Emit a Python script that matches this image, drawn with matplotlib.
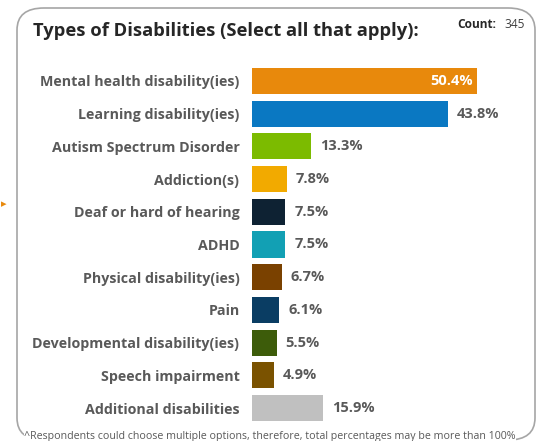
import matplotlib.pyplot as plt
from matplotlib.patches import FancyBboxPatch

# Survey results: types of disabilities (multiple selection)
categories = [
    'Mental health disability(ies)',
    'Learning disability(ies)',
    'Autism Spectrum Disorder',
    'Addiction(s)',
    'Deaf or hard of hearing',
    'ADHD',
    'Physical disability(ies)',
    'Pain',
    'Developmental disability(ies)',
    'Speech impairment',
    'Additional disabilities',
]
percentages = [50.4, 43.8, 13.3, 7.8, 7.5, 7.5, 6.7, 6.1, 5.5, 4.9, 15.9]
bar_colors = ['#E8890C', '#0A78C2', '#7CBB00', '#F2AA00', '#0E2233', '#12A0B4',
              '#7A4100', '#0A3D63', '#3D5C0A', '#7A5200', '#C0C0C0']
count = 345

plt.rcParams['font.family'] = ['Open Sans', 'DejaVu Sans']
text_gray = '#595959'

W, H = 539, 441
fig = plt.figure(figsize=(W / 100, H / 100), dpi=100)
fig.patch.set_facecolor('white')

# rounded frame around the whole panel
frame = FancyBboxPatch((17 / W, 1 - 440 / H), 518 / W, 432 / H,
                       boxstyle='round,pad=0,rounding_size=0.05',
                       transform=fig.transFigure, facecolor='none',
                       edgecolor='#A6A6A6', linewidth=1.2, clip_on=False)
fig.patches.append(frame)

# small orange marker sitting outside the frame
fig.text(1 / W, 1 - 205 / H, '\u25B8', color='#E8890C', fontsize=8,
         ha='left', va='center')

fig.text(33 / W, 1 - 31 / H, 'Types of Disabilities (Select all that apply):',
         fontsize=13.2, fontweight='bold', color='#262626', ha='left', va='center')
fig.text(457 / W, 1 - 24 / H, 'Count:', fontsize=8.6, fontweight='bold',
         color='#262626', ha='left', va='center')
fig.text(504 / W, 1 - 24 / H, str(count), fontsize=8.6, color='#404040',
         ha='left', va='center')

ax_left, ax_top, ax_bottom = 252, 64.6, 424.4
px_per_unit = 4.464
xmax = 60
ax = fig.add_axes([ax_left / W, 1 - ax_bottom / H,
                   xmax * px_per_unit / W, (ax_bottom - ax_top) / H])

y = list(range(len(categories)))
ax.barh(y, percentages, height=0.8, color=bar_colors, edgecolor='none')
ax.set_xlim(0, xmax)
ax.set_ylim(len(categories) - 0.5, -0.5)
ax.set_yticks(y)
ax.set_yticklabels(categories, fontsize=10.3, fontweight='bold', color=text_gray)
ax.tick_params(axis='y', length=0, pad=9)
ax.set_xticks([])
for s in ax.spines.values():
    s.set_visible(False)

for i, v in enumerate(percentages):
    if i == 0:
        ax.text(v - 1.0, i, f'{v}%', ha='right', va='center', fontsize=10.5,
                fontweight='bold', color='white')
    else:
        ax.text(v + 2.0, i, f'{v}%', ha='left', va='center', fontsize=10.5,
                fontweight='bold', color=text_gray)

fig.text(270 / W, 1 - 436 / H,
         '^Respondents could choose multiple options, therefore, total percentages may be more than 100%',
         fontsize=7.7, color='#595959', ha='center', va='center',
         bbox=dict(facecolor='white', edgecolor='none', pad=0.5))

fig.savefig('out.png', dpi=100)
